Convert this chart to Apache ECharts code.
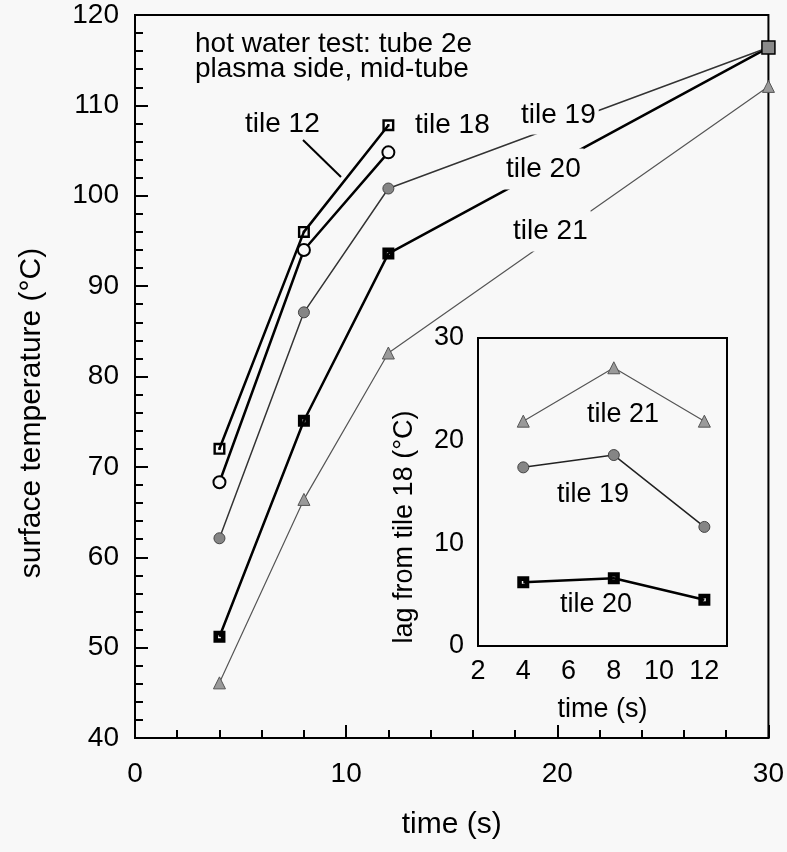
<!DOCTYPE html>
<html>
<head>
<meta charset="utf-8">
<script src="https://cdn.jsdelivr.net/npm/echarts@6/dist/echarts.min.js"></script>
<style>
  html, body { margin: 0; padding: 0; background: #f8f8f8; }
  #chart { width: 787px; height: 852px; }
</style>
</head>
<body>
<div id="chart"></div>
<script>
// main plot: surface temperature vs time
const timeMain = [4, 8, 12, 30];
const tile12 = [72.0, 96.0, 107.8];
const tile18 = [68.3, 94.0, 104.8];
const tile19 = [62.1, 87.1, 100.8, 116.4];
const tile20 = [51.2, 75.1, 93.6, 116.4];
const tile21 = [46.1, 66.4, 82.6, 112.1];

// inset: lag from tile 18
const lagTime = [4, 8, 12];
const lag21 = [21.9, 27.1, 21.9];
const lag19 = [17.4, 18.6, 11.6];
const lag20 = [6.2, 6.6, 4.5];

const FONT = 'Liberation Sans';
const BG = '#f8f8f8';

// square outline with a dot / filled square with a hole
const sqDot = 'path://M0,0H10V10H0Z M2,2V8H8V2Z M4,4H6V6H4Z';
const sqHole = 'path://M0,0H10V10H0Z M3.8,3.8V6.2H6.2V3.8Z';

function pairs(xs, ys) {
    return ys.map(function (y, i) { return [xs[i], y]; });
}

let chart = echarts.init(document.getElementById('chart'));

let blackLine = { show: true, onZero: false, lineStyle: { color: '#000', width: 2 } };

let mainY = {
    gridIndex: 0, type: 'value', min: 40, max: 120, interval: 10,
    axisLine: blackLine,
    axisTick: { inside: true, length: 13, lineStyle: { color: '#000', width: 2 } },
    minorTick: { show: true, splitNumber: 5, length: 8, lineStyle: { color: '#000', width: 2 } },
    axisLabel: { fontFamily: FONT, fontSize: 28, color: '#000', margin: 16 },
    splitLine: { show: false }
};
let mainX = {
    gridIndex: 0, type: 'value', min: 0, max: 30, interval: 10,
    name: 'time (s)', nameLocation: 'middle', nameGap: 72,
    nameTextStyle: { fontFamily: FONT, fontSize: 30, color: '#000' },
    axisLine: blackLine,
    axisTick: { inside: true, length: 13, lineStyle: { color: '#000', width: 2 } },
    minorTick: { show: true, splitNumber: 5, length: 8, lineStyle: { color: '#000', width: 2 } },
    axisLabel: { fontFamily: FONT, fontSize: 28, color: '#000', margin: 22 },
    splitLine: { show: false }
};

function insetTicks(split) {
    return {
        axisTick: { inside: true, length: 10, lineStyle: { color: '#000', width: 2 } },
        minorTick: { show: true, splitNumber: split, length: 6, lineStyle: { color: '#000', width: 2 } }
    };
}

let insetX = Object.assign({
    gridIndex: 1, type: 'value', min: 2, max: 13, interval: 2,
    name: 'time (s)', nameLocation: 'middle', nameGap: 50,
    nameTextStyle: { fontFamily: FONT, fontSize: 27, color: '#000' },
    axisLine: blackLine,
    axisLabel: { fontFamily: FONT, fontSize: 27, color: '#000', margin: 12, showMaxLabel: false },
    splitLine: { show: false }
}, insetTicks(2));
let insetXTop = Object.assign({}, insetX, {
    position: 'top', name: '', axisLabel: { show: false }
});
let insetY = Object.assign({
    gridIndex: 1, type: 'value', min: 0, max: 30, interval: 10,
    axisLine: blackLine,
    axisLabel: { fontFamily: FONT, fontSize: 27, color: '#000', margin: 14 },
    splitLine: { show: false }
}, insetTicks(5));
let insetYRight = Object.assign({}, insetY, {
    position: 'right', axisLabel: { show: false }
});

function lineSeries(name, xi, yi, data, lineColor, lineWidth, symbol, size, itemStyle) {
    return {
        name: name, type: 'line', xAxisIndex: xi, yAxisIndex: yi,
        data: data, symbol: symbol, symbolSize: size, showSymbol: true,
        lineStyle: { color: lineColor, width: lineWidth },
        itemStyle: itemStyle, z: xi === 1 ? 6 : 3, silent: true, animation: false
    };
}

// tile 19 / tile 20 share the last point, drawn as one grey square
let t19data = pairs(timeMain, tile19);
t19data[3] = { value: t19data[3], symbol: 'rect', symbolSize: 13,
    itemStyle: { color: '#8a8a8a', borderColor: '#000', borderWidth: 1.5 } };
let t20data = pairs(timeMain, tile20);
t20data[3] = { value: t20data[3], symbol: 'none' };

let greyDot = { color: '#858585', borderColor: '#444', borderWidth: 1 };
let greyTri = { color: '#9a9a9a', borderColor: '#555', borderWidth: 1 };

// text; pad = background box that breaks the line behind it
function txt(x, y, s, size, pad, rot) {
    return {
        type: 'text', x: x, y: y, z: 10, rotation: rot || 0,
        style: { text: s, fontFamily: FONT, fontSize: size, fill: '#000',
            align: rot ? 'center' : 'left', verticalAlign: 'middle',
            backgroundColor: pad ? BG : null, padding: pad || 0 }
    };
}

let option = {
    backgroundColor: BG,
    animation: false,
    grid: [
        { left: 135, top: 15, width: 636, height: 723, show: true, borderColor: '#000', borderWidth: 2, backgroundColor: 'transparent' },
        { left: 478, top: 338, width: 249, height: 308, show: true, borderColor: '#000', borderWidth: 2, backgroundColor: BG, z: 5 }
    ],
    xAxis: [mainX, insetX, insetXTop],
    yAxis: [mainY, insetY, insetYRight],
    series: [
        lineSeries('tile 21', 0, 0, pairs(timeMain, tile21), '#555', 1.2, 'triangle', 12, greyTri),
        lineSeries('tile 20', 0, 0, t20data, '#000', 2.5, sqHole, 12, { color: '#000' }),
        lineSeries('tile 19', 0, 0, t19data, '#333', 1.5, 'circle', 11, greyDot),
        lineSeries('tile 18', 0, 0, pairs(timeMain, tile18), '#000', 2.5, 'circle', 12,
            { color: BG, borderColor: '#000', borderWidth: 2 }),
        lineSeries('tile 12', 0, 0, pairs(timeMain, tile12), '#000', 2.5, sqDot, 12, { color: '#000' }),

        lineSeries('lag 21', 1, 1, pairs(lagTime, lag21), '#555', 1.2, 'triangle', 12, greyTri),
        lineSeries('lag 19', 1, 1, pairs(lagTime, lag19), '#222', 1.5, 'circle', 11, greyDot),
        lineSeries('lag 20', 1, 1, pairs(lagTime, lag20), '#000', 2.5, sqHole, 12, { color: '#000' })
    ],
    graphic: [
        txt(32, 413, 'surface temperature (°C)', 30, 0, Math.PI / 2),
        txt(405, 527, 'lag from tile 18 (°C)', 27, 0, Math.PI / 2),
        txt(195, 44, 'hot water test: tube 2e', 28),
        txt(195, 69, 'plasma side, mid-tube', 28),
        txt(245, 124, 'tile 12', 28),
        { type: 'line', z: 10, shape: { x1: 303, y1: 140, x2: 341, y2: 177 },
          style: { stroke: '#000', lineWidth: 2 } },
        txt(415, 125, 'tile 18', 28),
        txt(518, 115, 'tile 19', 28, [1, 3, 10, 3]),
        txt(503, 169, 'tile 20', 28, [1, 3, 12, 3]),
        txt(510, 231, 'tile 21', 28, [1, 3, 12, 3]),
        txt(587, 415, 'tile 21', 27),
        txt(557, 495, 'tile 19', 27),
        txt(560, 605, 'tile 20', 27)
    ]
};

chart.setOption(option);
</script>
</body>
</html>
